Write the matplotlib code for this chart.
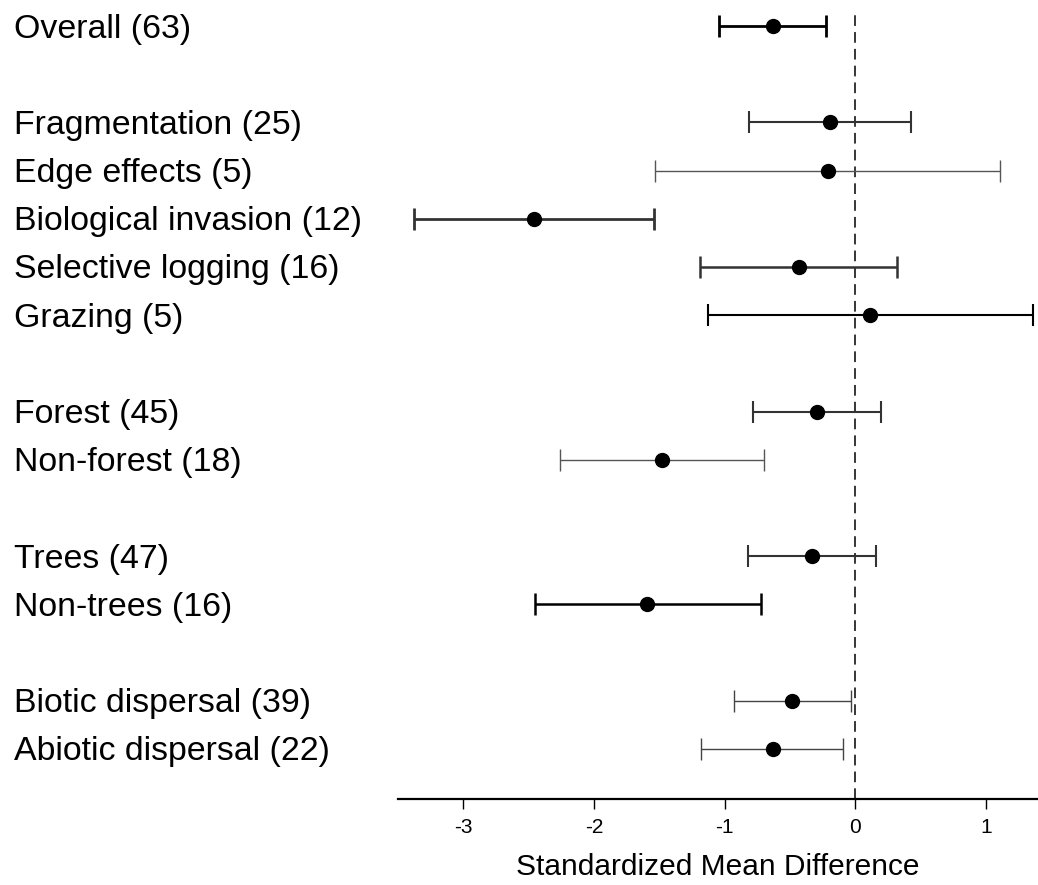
import matplotlib
matplotlib.use("Agg")
import matplotlib.pyplot as plt
import matplotlib.transforms as mtransforms

plt.rcParams['font.family'] = ['Liberation Sans', 'DejaVu Sans']

# moderators, effect sizes and 95% CI
labels = ["Overall (63)",
          "Fragmentation (25)", "Edge effects (5)", "Biological invasion (12)",
          "Selective logging (16)", "Grazing (5)",
          "Forest (45)", "Non-forest (18)",
          "Trees (47)", "Non-trees (16)",
          "Biotic dispersal (39)", "Abiotic dispersal (22)"]
rows = [0, 2, 3, 4, 5, 6, 8, 9, 11, 12, 14, 15]
smd = [-0.63, -0.19, -0.21, -2.46, -0.43, 0.11, -0.29, -1.48, -0.33, -1.59, -0.48, -0.63]
ci_low = [-1.04, -0.81, -1.53, -3.38, -1.19, -1.13, -0.78, -2.26, -0.82, -2.45, -0.93, -1.18]
ci_high = [-0.22, 0.43, 1.11, -1.54, 0.32, 1.36, 0.20, -0.70, 0.16, -0.72, -0.03, -0.09]

# line weight per row
lw = [2.0, 1.5, 1.0, 2.0, 1.8, 1.5, 1.5, 1.0, 1.5, 1.8, 1.0, 1.0]
col = ['black', '#333333', '#555555', '#333333', '#333333', 'black',
       '#333333', '#555555', '#333333', 'black', '#444444', '#444444']

fig = plt.figure(figsize=(10.38, 8.85), dpi=100)
ax = fig.add_axes([398 / 1038, 1 - 799 / 885, 1 - 398 / 1038, 799 / 885])

ax.axvline(0, ymin=0, ymax=0.988, color='black', lw=1.1, ls=(0, (7, 4)))

for r, m, lo, hi, w, c in zip(rows, smd, ci_low, ci_high, lw, col):
    ax.errorbar(m, r, xerr=[[m - lo], [hi - m]], fmt='none', ecolor=c,
                elinewidth=w, capsize=8, capthick=w)
    ax.plot(m, r, 'o', color='black', markersize=10, zorder=3)

ax.set_xlim(-3.5, 1.4)
ax.set_ylim(16.04, -0.54)

for s in ['top', 'right', 'left']:
    ax.spines[s].set_visible(False)
ax.spines['bottom'].set_linewidth(1.6)
ax.set_yticks([])
ax.set_xticks([-3, -2, -1, 0, 1])
ax.set_xticklabels(['-3', '-2', '-1', '0', '1'])
ax.tick_params(axis='x', length=7, width=1, labelsize=15, pad=7)
ax.set_xlabel("Standardized Mean Difference", fontsize=21.5, labelpad=11)

trans = mtransforms.blended_transform_factory(fig.transFigure, ax.transData)
trans = mtransforms.offset_copy(trans, fig=fig, y=-3, units='dots')
for r, lab in zip(rows, labels):
    ax.text(14 / 1038, r, lab, transform=trans, ha='left', va='center',
            fontsize=24.4, clip_on=False)

fig.savefig("out.png", dpi=100)
